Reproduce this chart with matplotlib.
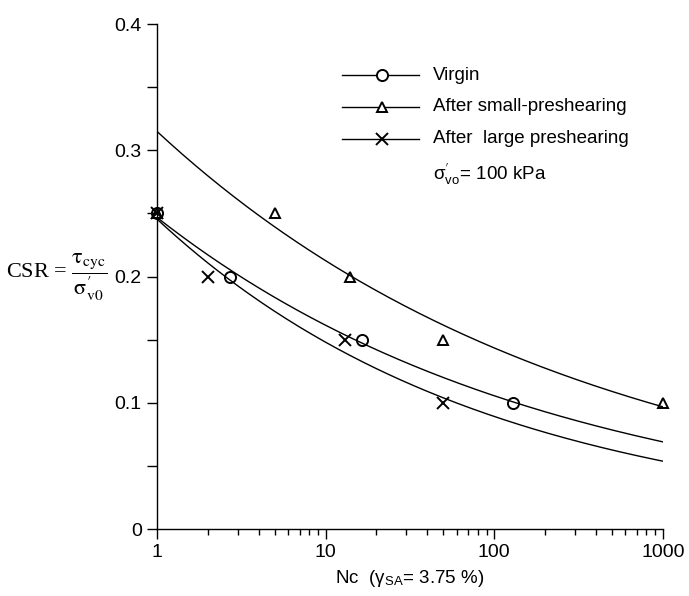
import numpy as np
import matplotlib.pyplot as plt
from matplotlib.ticker import FixedLocator, NullFormatter

plt.rcParams["font.family"] = ["Liberation Sans", "DejaVu Sans"]
plt.rcParams["mathtext.fontset"] = "stix"

# cyclic tests: number of cycles to gamma_SA = 3.75 % vs CSR
nc_virgin = [1, 2.7, 16.5, 130]
csr_virgin = [0.25, 0.20, 0.15, 0.10]

nc_small = [1, 5, 14, 50, 1000]
csr_small = [0.25, 0.25, 0.20, 0.15, 0.10]

nc_large = [1, 2, 13, 50]
csr_large = [0.25, 0.20, 0.15, 0.10]


def power_fit(n, csr):
    # CSR = a * N^b, least squares in log-log
    b, ln_a = np.polyfit(np.log(n), np.log(csr), 1)
    return np.exp(ln_a), b


nn = np.logspace(0, 3, 200)
a_v, b_v = power_fit(nc_virgin, csr_virgin)
# first small-preshearing test left out of the fit
a_s, b_s = power_fit(nc_small[1:], csr_small[1:])
a_l, b_l = power_fit(nc_large, csr_large)

fig = plt.figure(figsize=(6.89, 5.96), dpi=100)
ax = fig.add_axes([0.228, 0.1124, 0.734, 0.8473])

ax.plot(nn, a_v * nn ** b_v, color="black", lw=1.0)
ax.plot(nn, a_s * nn ** b_s, color="black", lw=1.0)
ax.plot(nn, a_l * nn ** b_l, color="black", lw=1.0)

mk = dict(linestyle="none", color="black", mfc="none", mew=1.4, clip_on=False, zorder=5)
ax.plot(nc_virgin, csr_virgin, marker="o", ms=8, **mk)
ax.plot(nc_small, csr_small, marker="^", ms=7, **mk)
ax.plot(nc_large, csr_large, marker="x", ms=9, **mk)

ax.set_xscale("log")
ax.set_xlim(1, 1000)
ax.set_ylim(0, 0.4)
ax.set_xticks([1, 10, 100, 1000])
ax.set_xticklabels(["1", "10", "100", "1000"])
ax.xaxis.set_minor_locator(FixedLocator(
    [m * d for d in (1, 10, 100) for m in range(2, 10)]))
ax.xaxis.set_minor_formatter(NullFormatter())
ax.set_yticks([0, 0.1, 0.2, 0.3, 0.4])
ax.set_yticklabels(["0", "0.1", "0.2", "0.3", "0.4"])
ax.set_yticks([0.05, 0.15, 0.25, 0.35], minor=True)

for side in ("top", "right"):
    ax.spines[side].set_visible(False)
for side in ("left", "bottom"):
    ax.spines[side].set_linewidth(1.0)
ax.tick_params(axis="both", which="major", direction="out", length=7,
               width=1.0, labelsize=14, pad=4)
ax.tick_params(axis="y", which="minor", direction="out", length=7, width=1.0)
ax.tick_params(axis="x", which="minor", direction="out", length=4, width=1.0)

ax.set_xlabel("Nc  (γ$_{\\mathregular{SA}}$= 3.75 %)", fontsize=13.5, labelpad=5)
fig.text(0.008, 0.535,
         r"CSR = $\dfrac{\mathrm{\tau}_{\mathrm{cyc}}}{\mathrm{\sigma}^{\prime}_{\mathrm{v0}}}$",
         fontsize=16, family="Liberation Serif", va="center", ha="left")

# legend: short line with marker off-centre
labels = ["Virgin", "After small-preshearing", "After  large preshearing"]
markers = [("o", 8), ("^", 7), ("x", 9)]
x0, x1, xm = 0.366, 0.517, 0.445
rows = [0.899, 0.836, 0.773]
for lab, (m, s), yy in zip(labels, markers, rows):
    ax.plot([x0, x1], [yy, yy], color="black", lw=1.0, transform=ax.transAxes)
    ax.plot([xm], [yy], marker=m, ms=s, color="black", mfc="white", mew=1.4,
            transform=ax.transAxes)
    ax.text(0.545, yy, lab, transform=ax.transAxes, fontsize=13.5, va="center")
ax.text(0.545, 0.703, "σ$^{\\prime}_{\\mathregular{vo}}$= 100 kPa", transform=ax.transAxes,
        fontsize=13.5, va="center")

fig.savefig("out.png", dpi=100)
